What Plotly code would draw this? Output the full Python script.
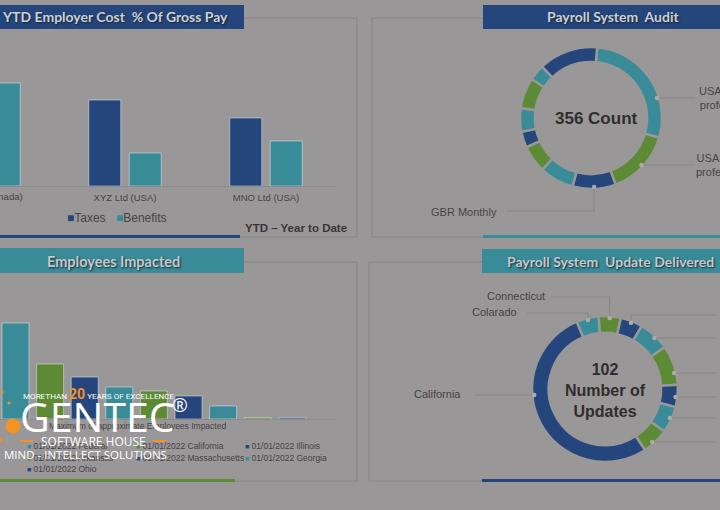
import math
import plotly.graph_objects as go

W, H = 720, 510

# ---------------------------------------------------------------- palette
BG = "#9a9798"
NAVY = "#24467c"
TEAL = "#3a8b98"
GREEN = "#5d8b35"
INK = "#2f2d2e"
SOFT_INK = "#454344"
FRAME = "#868485"
LEADER = "#878586"
DOT = "#adabac"
TITLE_INK = "#cbd0d8"
ORANGE = "#f39322"
WHITE = "#ffffff"

# ---------------------------------------------------------------- data
# YTD employer cost, % of gross pay
cost_companies = ["ABC Ltd (Canada)", "XYZ Ltd (USA)", "MNO Ltd (USA)"]
cost_taxes = [9.4, 8.6, 6.8]
cost_benefits = [10.3, 3.3, 4.5]

# Payroll system audit (count of records per payroll group)
audit_groups = ["USA Weekly professional", "USA Monthly professionals", "GBR Monthly",
                "GBR Weekly", "CAN Biweekly", "CAN Monthly", "IND Monthly",
                "AUS Monthly", "SGP Monthly", "USA Biweekly"]
audit_counts = [100, 53, 35, 28, 22, 13, 19, 25, 13, 48]
audit_colors = [TEAL, GREEN, NAVY, TEAL, GREEN, NAVY, TEAL, GREEN, TEAL, NAVY]
audit_total_label = "356 Count"

# Employees impacted per update
impact_series = ["01/01/2022 Federal", "01/01/2022 California", "01/01/2022 Illinois",
                 "01/01/2022 Texas", "01/01/2022 Arkansas", "01/01/2022 Massachusetts",
                 "01/01/2022 Georgia", "01/01/2022 New York", "01/01/2022 Ohio"]
impact_values = [480, 275, 210, 160, 140, 115, 65, 7, 6]
impact_colors = [TEAL, GREEN, NAVY, TEAL, GREEN, NAVY, TEAL, GREEN, NAVY]
impact_legend = [0, 1, 2, 4, 5, 6, 8]          # series listed in the legend
impact_axis_title = "Maximum of approximate Employees Impacted"

# Payroll system updates delivered per state
update_states = ["California", "Colarado", "Connecticut", "Delaware", "Florida",
                 "Georgia", "Illinois", "Massachusetts", "Ohio"]
update_counts = [54, 5, 5, 5, 7, 9, 5, 6, 6]
update_colors = [NAVY, TEAL, GREEN, NAVY, TEAL, GREEN, NAVY, TEAL, GREEN]
update_total_label = "102<br>Number of<br>Updates"


# ---------------------------------------------------------------- helpers
def fx(x):
    return x / W


def fy(y):
    return 1 - y / H


shapes = []
annotations = []


def hline(x0, x1, y, color, width=1):
    shapes.append(dict(type="line", xref="paper", yref="paper",
                       x0=fx(x0), x1=fx(x1), y0=fy(y), y1=fy(y),
                       line=dict(color=color, width=width)))


def vline(x, y0, y1, color, width=1):
    shapes.append(dict(type="line", xref="paper", yref="paper",
                       x0=fx(x), x1=fx(x), y0=fy(y0), y1=fy(y1),
                       line=dict(color=color, width=width)))


def rect(x0, y0, x1, y1, color):
    shapes.append(dict(type="rect", xref="paper", yref="paper",
                       x0=fx(x0), x1=fx(x1), y0=fy(y1), y1=fy(y0),
                       fillcolor=color, line=dict(width=0), layer="below"))


def circle(cx, cy, r, color, layer="above"):
    shapes.append(dict(type="circle", xref="paper", yref="paper",
                       x0=fx(cx - r), x1=fx(cx + r), y0=fy(cy + r), y1=fy(cy - r),
                       fillcolor=color, line=dict(width=0), layer=layer))


def text(x, y, s, size, color=SOFT_INK, family="Liberation Sans", xanchor="center",
         yanchor="middle", weight="normal", align="center", shadow=None):
    font = dict(family=family, size=size, color=color, weight=weight)
    if shadow:
        font["shadow"] = shadow
    annotations.append(dict(xref="paper", yref="paper", x=fx(x), y=fy(y), text=s,
                            showarrow=False, font=font, xanchor=xanchor,
                            yanchor=yanchor, align=align, borderpad=0))


def slice_bounds(values, rotation):
    total = sum(values)
    a = rotation
    out = []
    for v in values:
        span = v / total * 360
        out.append((a, a + span))
        a += span
    return out


def on_ring(cx, cy, r, deg):
    t = math.radians(deg)
    return cx + r * math.sin(t), cy - r * math.cos(t)


def leader(cx, cy, r, bounds, line_y, end_x):
    """Leader line from a slice of the ring to a label level line_y."""
    a0, a1 = bounds
    side = 1 if end_x > cx else -1
    dy = line_y - cy
    if abs(dy) < r:
        dx = side * math.sqrt(r * r - dy * dy)
        deg = math.degrees(math.atan2(dx, -dy)) % 360
        if (deg - a0) % 360 <= (a1 - a0):
            hline(cx + dx, end_x, line_y, LEADER)
            circle(cx + dx, line_y, 2.2, DOT)
            return
    px, py = on_ring(cx, cy, r, (a0 + a1) / 2)
    vline(px, py, line_y, LEADER)
    hline(px, end_x, line_y, LEADER)
    circle(px, py, 2.2, DOT)


fig = go.Figure()

# ---------------------------------------------------------------- panel frames
for pts in ([(244, 18), (357, 18), (357, 237), (240, 237)],
            [(483, 18), (372, 18), (372, 237), (483, 237)],
            [(244, 262), (357, 262), (357, 481), (235, 481)],
            [(482, 262), (369, 262), (369, 481), (482, 481)]):
    path = "M " + " L ".join(f"{fx(x):.5f},{fy(y):.5f}" for x, y in pts)
    shapes.append(dict(type="path", xref="paper", yref="paper", path=path,
                       line=dict(color=FRAME, width=1), layer="below"))

rect(-2, 5, 244, 29, NAVY)
rect(483, 5, 724, 29, NAVY)
rect(-2, 248, 244, 273, TEAL)
rect(482, 249, 724, 273, TEAL)
rect(0, 235, 240, 238, NAVY)
rect(483, 235, 724, 238, TEAL)
rect(0, 479, 235, 482, GREEN)
rect(482, 479, 724, 482, NAVY)

title_shadow = "1px 1px 2px #1d2530"
text(115, 17, "YTD Employer Cost  % Of Gross Pay", 14, TITLE_INK, "Lato", weight="bold",
     shadow=title_shadow)
text(613, 17, "Payroll System  Audit", 14, TITLE_INK, "Lato", weight="bold",
     shadow=title_shadow)
text(113, 261, "Employees Impacted", 14.5, "#c4cacc", "Lato", weight="bold",
     shadow=title_shadow)
text(610, 261, "Payroll System  Update Delivered", 14, "#c4cacc", "Lato", weight="bold",
     shadow=title_shadow)

# ---------------------------------------------------------------- employer cost bars
cost_step, cost_mid, cost_right = 141.0, 125.0, 336.0     # px per category, centre of cat 1
cost_range = [1 + (0 - cost_mid) / cost_step, 1 + (cost_right - cost_mid) / cost_step]
fig.add_trace(go.Bar(x=cost_companies, y=cost_taxes, name="Taxes", marker_color=NAVY,
                     xaxis="x", yaxis="y", showlegend=False))
fig.add_trace(go.Bar(x=cost_companies, y=cost_benefits, name="Benefits", marker_color=TEAL,
                     xaxis="x", yaxis="y", showlegend=False))
cut_x = (0 - cost_range[0]) / (cost_range[1] - cost_range[0]) * cost_right
text(cut_x, 197, cost_companies[0], 9.5, SOFT_INK)

text(66, 218, f'<span style="color:{NAVY}">■</span>Taxes', 12, SOFT_INK, xanchor="left")
text(115, 218, f'<span style="color:{TEAL}">■</span>Benefits', 12, SOFT_INK, xanchor="left")
text(296, 228, "YTD – Year to Date", 11.5, "#383637", weight="bold")

# ---------------------------------------------------------------- employees impacted bars
imp_step, imp_first = 34.6, 15.5
imp_range = [-imp_first / imp_step, (cost_right - imp_first) / imp_step]
fig.add_trace(go.Bar(x=impact_series, y=impact_values, marker_color=impact_colors,
                     width=0.78, xaxis="x2", yaxis="y2", showlegend=False))
text(137, 426, impact_axis_title, 8.5, SOFT_INK)
legend_cols = [26, 135, 244]
legend_rows = [446, 458, 469]
for k, i in enumerate(impact_legend):
    text(legend_cols[k % 3], legend_rows[k // 3],
         f'<span style="color:{impact_colors[i]};font-size:7px">■</span> {impact_series[i]}',
         8.5, SOFT_INK, xanchor="left")

# ---------------------------------------------------------------- audit donut
a_cx, a_cy, a_r, a_rot = 591, 118, 71, 5
fig.add_trace(go.Pie(labels=audit_groups, values=audit_counts, hole=0.79, sort=False,
                     direction="clockwise", rotation=a_rot, textinfo="none",
                     marker=dict(colors=audit_colors, line=dict(color=BG, width=2.5)),
                     domain=dict(x=[fx(a_cx - a_r), fx(a_cx + a_r)],
                                 y=[fy(a_cy + a_r), fy(a_cy - a_r)]),
                     showlegend=False))
a_bounds = slice_bounds(audit_counts, a_rot)
text(a_cx + 5, a_cy, audit_total_label, 17, INK, weight="bold")
leader(a_cx, a_cy, a_r - 2, a_bounds[0], 98, 695)
leader(a_cx, a_cy, a_r - 2, a_bounds[1], 165, 695)
leader(a_cx, a_cy, a_r - 2, a_bounds[2], 211, 507)
text(698, 98, "USA Weekly<br>professional", 11, SOFT_INK, xanchor="left")
text(695, 165, "USA Monthly<br>professionals", 11, SOFT_INK, xanchor="left")
text(498, 212, audit_groups[2], 11, SOFT_INK, xanchor="right")

# ---------------------------------------------------------------- updates donut
u_cx, u_cy, u_r = 605, 389, 73
u_rot = 337.3 - update_counts[0] / sum(update_counts) * 360
fig.add_trace(go.Pie(labels=update_states, values=update_counts, hole=0.77, sort=False,
                     direction="clockwise", rotation=u_rot, textinfo="none",
                     marker=dict(colors=update_colors, line=dict(color=BG, width=2.5)),
                     domain=dict(x=[fx(u_cx - u_r), fx(u_cx + u_r)],
                                 y=[fy(u_cy + u_r), fy(u_cy - u_r)]),
                     showlegend=False))
u_bounds = slice_bounds(update_counts, u_rot)
text(u_cx, u_cy + 1, update_total_label, 16, INK, weight="bold")
left_labels = [(0, 395, 475, 462), (1, 313, 527, 518), (2, 297, 552, 546)]
for i, ly, ex, tx in left_labels:
    leader(u_cx, u_cy, u_r - 2, u_bounds[i], ly, ex)
    text(tx, ly - 1, update_states[i], 11, SOFT_INK, xanchor="right")
right_levels = [315, 338, 373, 397, 418, 442]
for i, ly in zip(range(3, 9), right_levels):
    leader(u_cx, u_cy, u_r - 2, u_bounds[i], ly, 716)
    text(724, ly, update_states[i], 11, SOFT_INK, xanchor="left")

# ---------------------------------------------------------------- brand mark
circle(2, 392, 1.6, ORANGE)
circle(9, 403, 1.6, ORANGE)
circle(13, 426, 7.5, ORANGE)
circle(-1, 440, 3, ORANGE)
hline(20, 33, 441, ORANGE, 2)
hline(153, 166, 441, ORANGE, 2)
text(22, 394, f'MORETHAN <span style="color:{ORANGE};font-size:14px"><b>20</b></span> YEARS OF EXCELLENCE',
     8.1, WHITE, "Roboto", xanchor="left")
text(19, 416, "GENTEC", 41, WHITE, "Open Sans", xanchor="left")
text(171, 405, "®", 19, WHITE, "Open Sans", xanchor="left")
text(93, 441, "SOFTWARE HOUSE", 12, WHITE, "Open Sans")
text(3, 454, "MIND - INTELLECT SOLUTIONS", 11.5, WHITE, "Open Sans", xanchor="left")

# ---------------------------------------------------------------- layout
axis_common = dict(showgrid=False, zeroline=False, fixedrange=True)
fig.update_layout(
    width=W, height=H, margin=dict(l=0, r=0, t=0, b=0),
    paper_bgcolor=BG, plot_bgcolor="rgba(0,0,0,0)",
    barmode="group", bargap=0.426, bargroupgap=0.21,
    xaxis=dict(domain=[0, fx(cost_right)], range=cost_range, showline=True,
               linecolor="#8d8b8c", linewidth=1, ticks="", ticklabelstandoff=3,
               tickfont=dict(family="Liberation Sans", size=9.5, color=SOFT_INK),
               **axis_common),
    yaxis=dict(domain=[fy(186), fy(66)], range=[0, 12], visible=False, **axis_common),
    xaxis2=dict(domain=[0, fx(cost_right)], range=imp_range, showline=True,
                linecolor="#8d8b8c", linewidth=1, showticklabels=False, ticks="",
                anchor="y2", **axis_common),
    yaxis2=dict(domain=[fy(419), fy(299)], range=[0, 600], visible=False,
                anchor="x2", **axis_common),
    shapes=shapes, annotations=annotations,
    hovermode=False,
)

fig.write_html("out.html")
